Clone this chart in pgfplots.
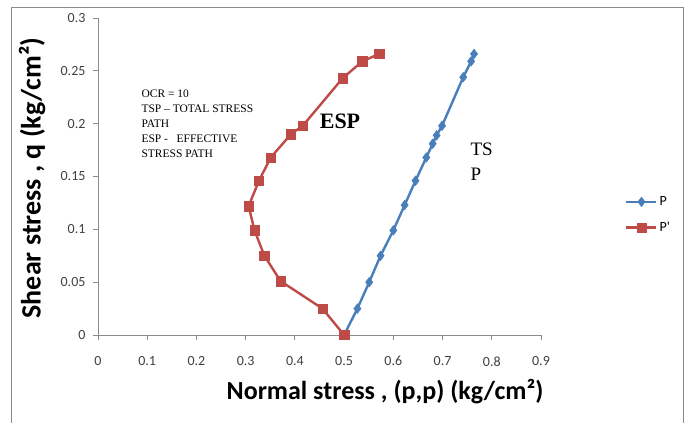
\documentclass[border=0pt]{standalone}
\usepackage{fontspec}
\usepackage{pgfplots}
\pgfplotsset{compat=1.18}
\setmainfont{Carlito}
\newfontfamily\calibri{Carlito}
\newfontfamily\tnr{Liberation Serif}

\definecolor{xlblue}{HTML}{4A7EBB}
\definecolor{xlred}{HTML}{BE4B48}
\definecolor{axgray}{HTML}{8C8C8C}
\definecolor{lblgray}{HTML}{404040}

\begin{document}
\begin{tikzpicture}[x=1pt,y=1pt]
\useasboundingbox (0,0) rectangle (686,-423);
% outer chart frame (no bottom edge)
\draw[axgray, line width=1pt] (11,-423) -- (11,-7) -- (683,-7) -- (683,-423);

\begin{axis}[
  at={(98pt,-335pt)}, anchor=south west,
  scale only axis,
  width=443pt, height=317pt,
  xmin=0, xmax=0.9, ymin=0, ymax=0.3,
  xtick={0,0.1,...,0.9},
  ytick={0,0.05,0.1,0.15,0.2,0.25,0.3},
  scaled ticks=false,
  xticklabel={\pgfmathprintnumber[fixed,precision=1]{\tick}},
  yticklabel={\pgfmathprintnumber[fixed,precision=2]{\tick}},
  /pgf/number format/assume math mode=true,
  ticklabel style={font=\calibri\fontsize{14}{16}\selectfont, text=lblgray},
  xticklabel style={yshift=-13pt},
  yticklabel style={xshift=-4pt},
  axis x line*=bottom, axis y line*=left,
  axis line style={axgray, line width=0.8pt},
  tick style={axgray, line width=0.8pt},
  tick align=outside,
  major tick length=5pt,
  clip=false,
  legend style={at={(axis description cs:1.183,0.379)}, anchor=west, draw=none,
    fill=none, font=\calibri\fontsize{14}{16}\selectfont, row sep=11pt,
    legend cell align=left},
  legend image code/.code={\draw[mark repeat=2,mark phase=2]
    plot coordinates {(0pt,0pt)(15pt,0pt)(30pt,0pt)};},
]

% total stress path (TSP)
\addplot[xlblue, line width=2.4pt, mark=diamond*, mark size=4.8pt,
  mark options={fill=xlblue, line width=0.5pt}] coordinates {
  (0.500,0.000) (0.527,0.025) (0.551,0.050) (0.574,0.075) (0.600,0.099)
  (0.623,0.123) (0.645,0.146) (0.667,0.168) (0.680,0.181) (0.688,0.189)
  (0.699,0.198) (0.742,0.244) (0.758,0.259) (0.764,0.266)
};
\addlegendentry{P}

% effective stress path (ESP)
\addplot[xlred, line width=2.4pt, mark=square*, mark size=4.7pt,
  mark options={fill=xlred, line width=0.5pt}] coordinates {
  (0.500,0.000) (0.456,0.025) (0.371,0.051) (0.338,0.075) (0.318,0.099)
  (0.306,0.122) (0.327,0.146) (0.351,0.168) (0.392,0.190) (0.416,0.198)
  (0.497,0.243) (0.537,0.259) (0.571,0.266)
};
\addlegendentry{P'}

\end{axis}

% axis titles
\node[anchor=center, font=\calibri\bfseries\fontsize{26}{30}\selectfont]
  at (385,-392) {Normal stress , (p,p) (kg/cm²)};
\node[rotate=90, anchor=center, font=\calibri\bfseries\fontsize{28}{32}\selectfont]
  at (32,-178) {Shear stress , q (kg/cm²)};

% annotations
\node[anchor=north west, align=left, font=\tnr\fontsize{11.5}{15}\selectfont]
  at (138,-86) {OCR = 10\\TSP \textendash\ TOTAL STRESS\\PATH\\ESP -\ \ \ EFFECTIVE\\STRESS PATH};
\node[anchor=center, font=\tnr\bfseries\fontsize{22}{24}\selectfont] at (340,-121) {ESP};
\node[anchor=north west, align=left, font=\tnr\fontsize{19}{25}\selectfont]
  at (467,-139) {TS\\P};
\end{tikzpicture}
\end{document}
